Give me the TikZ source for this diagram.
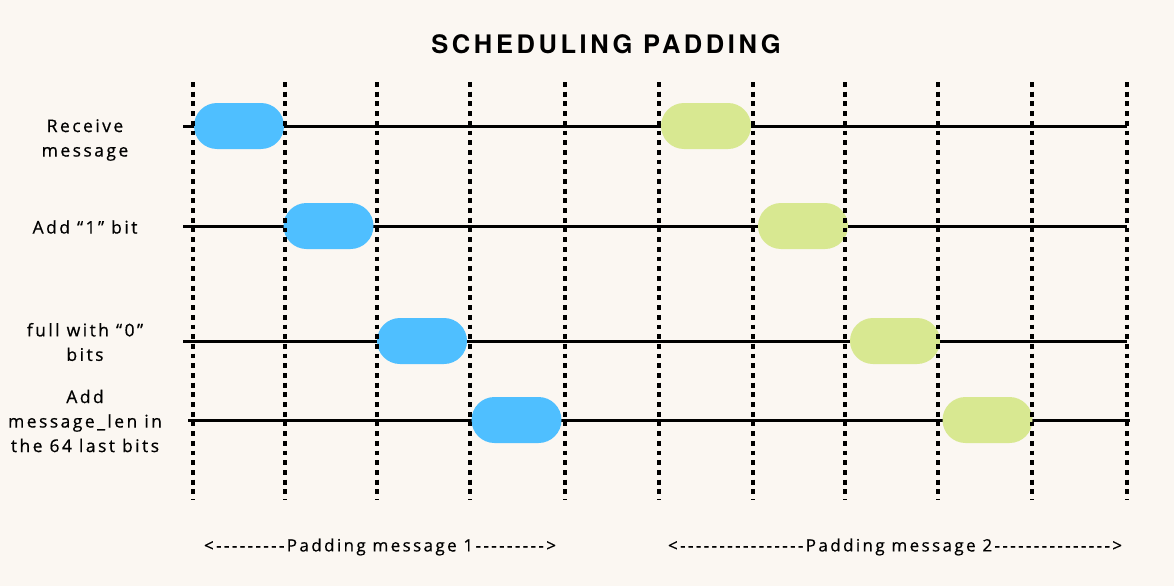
\documentclass[tikz,border=0pt]{standalone}
\usepackage{fontspec}
\setmainfont{Open Sans}[LetterSpace=14,FakeBold=0.6]
\newfontfamily\titlefont{TeX Gyre Heros}[LetterSpace=14]
\newfontfamily\spanfont{Open Sans}[LetterSpace=14,FakeBold=0.6,Ligatures=TeXOff]
\usetikzlibrary{shapes.misc}
\definecolor{paper}{HTML}{FBF7F2}
\definecolor{pillblue}{HTML}{4FBFFF}
\definecolor{pillgreen}{HTML}{D8E891}
\tikzset{
  lane/.style={line width=3pt},
  tick/.style={line width=4.8pt, dash pattern=on 4.8pt off 4.9pt},
  pill/.style={rounded rectangle, minimum width=90pt, minimum height=46pt, inner sep=0pt},
  lbl/.style={align=center, font=\fontsize{17.5}{24.5}\selectfont},
  span/.style={font=\spanfont\fontsize{17}{20}\selectfont}
}

\begin{document}
\begin{tikzpicture}[x=1pt,y=-1pt]
\fill[paper] (0,0) rectangle (1174,586);
\useasboundingbox (0,0) rectangle (1174,586);
\node[font=\titlefont\bfseries\fontsize{25.5}{30}\selectfont] (title) at (606,44) {SCHEDULING PADDING};

\foreach \y/\row/\xa/\xb in {126/a/183/1127,226/b/183/1127,341/c/183/1127,420/d/188/1130}{
  \coordinate (\row-l) at (\xa,\y);
  \coordinate (\row-r) at (\xb,\y);
  \draw[lane] (\row-l) -- (\row-r);
}

\node[pill,fill=pillblue] (a1) at (239,126) {};
\node[pill,fill=pillblue] (b1) at (328.5,226) {};
\node[pill,fill=pillblue] (c1) at (422,341) {};
\node[pill,fill=pillblue] (d1) at (516.5,420) {};
\node[pill,fill=pillgreen] (a2) at (706,126) {};
\node[pill,fill=pillgreen] (b2) at (803,226) {};
\node[pill,fill=pillgreen] (c2) at (895,341) {};
\node[pill,fill=pillgreen] (d2) at (987.5,420) {};

\foreach \x [count=\i] in {193,285,377,470,565,659,753,845,938,1032,1127}{
  \coordinate (top\i) at (\x,82);
  \coordinate (bot\i) at (\x,500);
  \draw[tick] (top\i) -- (bot\i);
}

\node[lbl] (recv) at (85,140) {Receive\\message};
\node[lbl] (one) at (85,227) {Add “1” bit};
\node[lbl] (zero) at (85,342) {full with “0”\\bits};
\node[lbl] (len) at (85,421) {Add\\message\_len in\\the 64 last bits};

\node[span] (msg1) at (380,547) {<---------Padding message 1--------->};
\node[span] (msg2) at (895,547) {<----------------Padding message 2--------------->};
\end{tikzpicture}
\end{document}
